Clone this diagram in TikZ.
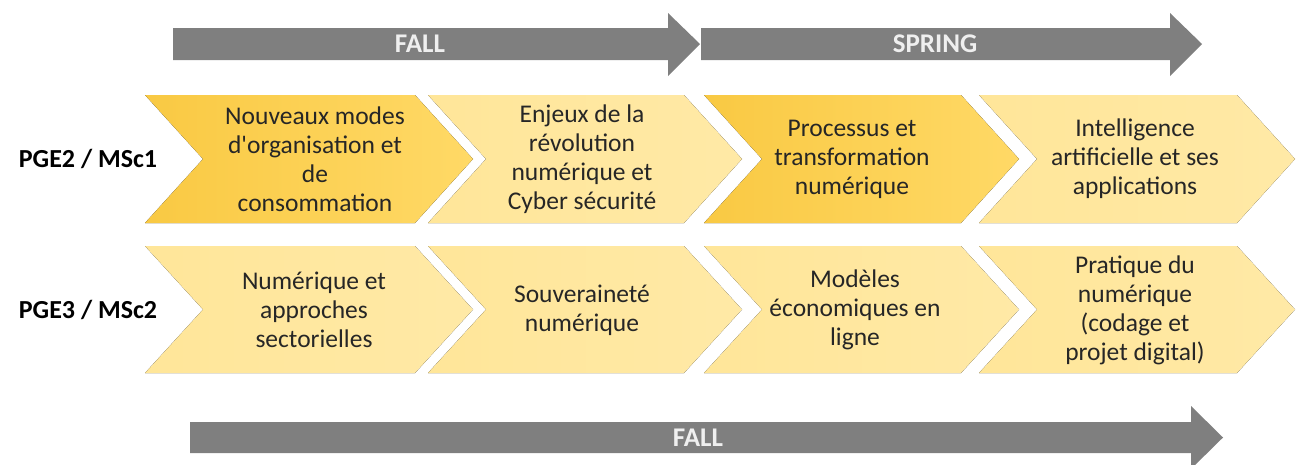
\documentclass[tikz,border=0pt]{standalone}
\usepackage{fontspec}
\setmainfont{Carlito}[Ligatures=TeXOff]
\definecolor{arrowgray}{HTML}{7F7F7F}
\definecolor{falltxt}{HTML}{EFEFEF}
\definecolor{golddark}{HTML}{F9C943}
\definecolor{goldmid}{HTML}{FFD966}
\definecolor{goldlight}{HTML}{FFE699}
\definecolor{goldlight2}{HTML}{FFE9A6}
\definecolor{txt}{HTML}{262626}
\newcommand{\chevpath}[4]{(#1,#3) -- ({#2-58},#3) -- (#2,{(#3+#4)/2}) -- ({#2-58},#4) -- (#1,#4) -- ({#1+58},{(#3+#4)/2}) -- cycle}
\begin{document}
\begin{tikzpicture}[x=1pt,y=-1pt,
  darkchev/.style={left color=golddark,right color=goldmid,draw=none},
  lightchev/.style={left color=goldlight,right color=goldlight2,draw=none},
  chevtext/.style={align=center,text=txt,font=\fontsize{25.5}{29}\selectfont,inner sep=0pt},
  rowlabel/.style={text=black,font=\bfseries\fontsize{26}{30}\selectfont,inner sep=0pt},
  season/.style={text=falltxt,font=\bfseries\fontsize{27}{30}\selectfont,inner sep=0pt},
  bigarrow/.style={fill=arrowgray,draw=none}]
\useasboundingbox (0,0) rectangle (1305,464);
% season arrows
\fill[bigarrow] (173,28) -- (668,28) -- (668,13) -- (700,44) -- (668,76) -- (668,60) -- (173,60) -- cycle;
\fill[bigarrow] (701,28) -- (1170,28) -- (1170,13) -- (1202,44) -- (1170,76) -- (1170,60) -- (701,60) -- cycle;
\fill[bigarrow] (190,422) -- (1191,422) -- (1191,406) -- (1223,437.5) -- (1191,469) -- (1191,453) -- (190,453) -- cycle;
\node[season] (fall1) at (420,44) {FALL};
\node[season] (spring) at (935,44) {SPRING};
\node[season] (fall2) at (698,437.5) {FALL};
% row 1
\fill[darkchev] \chevpath{145}{473}{95}{223};
\fill[lightchev] \chevpath{428}{742}{95}{223};
\fill[darkchev] \chevpath{704}{1019}{95}{223};
\fill[lightchev] \chevpath{979}{1295}{95}{223};
% row 2
\fill[lightchev] \chevpath{145}{473}{246}{373};
\fill[lightchev] \chevpath{428}{742}{246}{373};
\fill[lightchev] \chevpath{704}{1019}{246}{373};
\fill[lightchev] \chevpath{979}{1295}{246}{373};
% labels
\node[rowlabel] (r1) at (88,159) {PGE2 / MSc1};
\node[rowlabel] (r2) at (88,310) {PGE3 / MSc2};
% row 1 texts
\node[chevtext] (a1) at (315,159) {Nouveaux modes\\d'organisation et\\de\\consommation};
\node[chevtext] (a2) at (582,159) {Enjeux de la\\révolution\\numérique et\\Cyber sécurité};
\node[chevtext] (a3) at (852,159) {Processus et\\transformation\\numérique};
\node[chevtext] (a4) at (1135,159) {Intelligence\\artificielle et ses\\applications};
% row 2 texts
\node[chevtext] (b1) at (314,310) {Numérique et\\approches\\sectorielles};
\node[chevtext] (b2) at (582,310) {Souveraineté\\numérique};
\node[chevtext] (b3) at (855,310) {Modèles\\économiques en\\ligne};
\node[chevtext] (b4) at (1135,310) {Pratique du\\numérique\\(codage et\\projet digital)};
\end{tikzpicture}
\end{document}
